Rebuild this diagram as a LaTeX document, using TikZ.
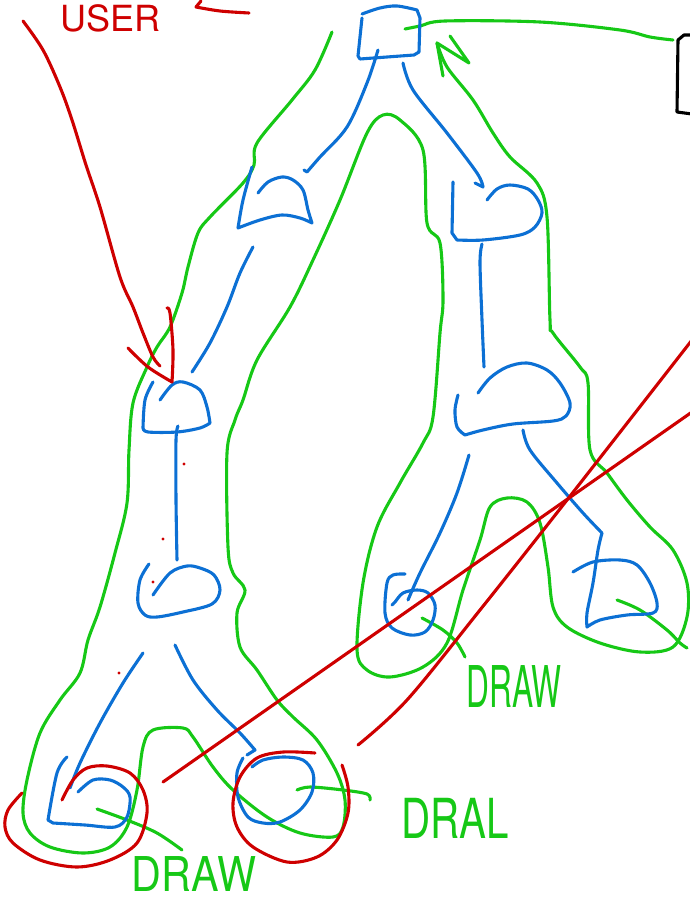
\documentclass[tikz,border=0pt]{standalone}
\usepackage{fontspec}
\setmainfont{TeX Gyre Heros}
\definecolor{penblue}{RGB}{12,112,212}
\definecolor{pengreen}{RGB}{22,200,22}
\definecolor{penred}{RGB}{206,0,0}
\begin{document}
\begin{tikzpicture}[x=1pt,y=-1pt,
  pen/.style={line width=3.1pt, line cap=round, line join=round},
  bluepen/.style={pen, draw=penblue},
  greenpen/.style={pen, draw=pengreen},
  redpen/.style={pen, draw=penred},
  blackpen/.style={pen, draw=black},
  sm/.style={smooth, tension=0.55},
  drawlabel/.style={text=pengreen, inner sep=0pt, font=\fontsize{48}{48}\selectfont},
  userlabel/.style={text=penred, inner sep=0pt, font=\fontsize{36}{36}\selectfont}]
\useasboundingbox (0,0) rectangle (690,902);

% ---------------- green outline ----------------
\draw[greenpen] plot[sm] coordinates {(332,32) (315,70) (292,100) (257,143) (254,165) (243,183) (210,217) (198,233) (188,267) (182,293) (170,327) (157,347) (147,367) (133,403) (129,450) (127,503) (115,553) (100,607) (88,640) (80,673) (60,700) (40,733) (27,780) (23,813) (30,833) (50,847) (83,853) (110,847) (127,827) (137,790) (143,747) (153,730) (183,728) (193,737) (213,767) (233,790) (267,817) (300,833) (333,837) (343,827) (345,800) (337,773) (317,740) (293,717) (277,700) (257,670) (240,647) (237,613) (245,590) (233,573) (228,547) (227,453) (235,420) (243,400) (257,360) (290,307) (313,260) (340,200) (367,133) (383,115) (400,120) (423,150) (427,223) (440,243) (443,300) (440,333) (433,417) (423,443) (400,483) (377,527) (363,583) (357,650) (367,670) (390,677) (423,667) (447,643) (463,590) (480,540) (490,507) (507,498) (527,502) (540,523) (548,567) (553,607) (567,627) (600,643) (640,652) (673,647) (687,617) (687,583) (673,550) (650,527) (627,500) (607,473) (590,450) (588,383) (580,367) (553,333) (550,320) (547,217) (537,183) (510,157) (493,133) (473,100) (447,67) (437,43)};
\draw[greenpen] (443,76) -- (437,43) -- (469,63) -- (450,36);
\draw[greenpen] plot[sm] coordinates {(405,29) (420,26) (445,21) (540,22) (620,30) (650,37) (673,40)};
\draw[greenpen] plot[sm] coordinates {(97,809) (127,820) (157,833) (182,850)};
\draw[greenpen] plot[sm] coordinates {(297,790) (310,787) (343,790) (367,794) (370,800)};
\draw[greenpen] plot[sm] coordinates {(422,618) (443,630) (457,643) (465,657)};
\draw[greenpen] plot[sm] coordinates {(617,600) (640,610) (667,630) (680,643) (687,648)};

% ---------------- black box ----------------
\draw[blackpen] (692,35) -- (684,35) -- (678,40) -- (677,112) -- (692,114);

% ---------------- blue tree ----------------
% root
\draw[bluepen] plot[sm] coordinates {(362,14) (380,8) (397,6) (417,10)} -- (420,18) -- (419,52) -- (414,55) -- (360,59) -- (358,56) -- (362,18);
% root -> L1, root -> R1
\draw[bluepen] plot[sm] coordinates {(378,50) (367,83) (347,127) (320,157) (307,172)} -- (304,170);
\draw[bluepen] plot[sm] coordinates {(403,63) (413,90) (447,133) (477,173) (483,187)} -- (475,183);
% L1
\draw[bluepen] plot[sm] coordinates {(258,193) (268,182) (282,177) (293,180) (303,190) (308,210) (312,223)}
  -- plot[sm] coordinates {(312,223) (300,218) (282,215) (260,220) (238,228)}
  -- plot[sm] coordinates {(238,228) (243,200) (252,167)};
% L1 -> L2
\draw[bluepen] plot[sm] coordinates {(253,247) (240,273) (227,307) (210,343) (192,372)};
% L2
\draw[bluepen] plot[sm] coordinates {(160,400) (172,385) (183,382) (200,390) (207,407) (210,423)}
  -- plot[sm] coordinates {(210,423) (200,428) (177,432) (148,432) (143,428)}
  -- plot[sm] coordinates {(143,428) (145,400) (153,382)};
% L2 -> L3
\draw[bluepen] plot[sm] coordinates {(178,426) (176,440) (176,500) (177,560)};
% L3
\draw[bluepen] plot[sm] coordinates {(153,595) (170,573) (187,566) (200,568) (214,575) (220,590) (212,604) (183,612) (157,617) (145,615) (138,603) (140,580) (149,564)};
% L3 -> leaves
\draw[bluepen] plot[sm] coordinates {(143,653) (123,683) (100,723) (80,763) (70,788)};
\draw[bluepen] plot[sm] coordinates {(175,645) (193,680) (217,710) (240,733) (255,750)} -- (247,755);
% LL leaf
\draw[bluepen] plot[sm] coordinates {(67,757) (57,773) (48,820)} -- (53,823)
  -- plot[sm] coordinates {(53,823) (85,825) (115,827) (127,817) (130,797) (123,787) (110,780) (93,780) (78,792)};
% LR leaf
\draw[bluepen] plot[sm] coordinates {(243,758) (237,773) (238,797) (248,817) (263,823) (280,822) (300,810) (312,792) (313,773) (303,760) (283,757) (263,760) (252,767)};
% R1
\draw[bluepen] plot[sm] coordinates {(453,182) (452,233)} -- (457,240)
  -- plot[sm] coordinates {(457,240) (483,240) (520,235) (535,227) (542,213) (538,200) (528,189) (510,185) (497,189) (487,200)};
% R1 -> R2
\draw[bluepen] plot[sm] coordinates {(482,244) (480,262) (482,320) (484,367)};
% R2
\draw[bluepen] plot[sm] coordinates {(458,395) (455,410) (457,427) (465,435)}
  -- plot[sm] coordinates {(465,435) (483,430) (513,424) (553,421) (566,416) (570,403) (560,383) (547,370) (527,363) (507,367) (490,378) (478,393)};
% R2 -> R3
\draw[bluepen] plot[sm] coordinates {(469,455) (457,493) (440,533) (420,573) (408,600)};
\draw[bluepen] plot[sm] coordinates {(523,430) (530,450) (557,483) (583,513) (602,533)} -- (598,529);
% R3 left leaf
\draw[bluepen] plot[sm] coordinates {(405,574) (393,575) (387,583) (385,613) (392,628) (410,635) (425,632) (433,620) (435,605) (428,593) (417,590) (403,593) (395,602) (392,605)};
% R3 right leaf
\draw[bluepen] plot[sm] coordinates {(602,533) (598,550) (593,583) (587,613) (587,627)}
  -- plot[sm] coordinates {(587,627) (600,620) (627,615) (653,613) (657,603) (650,583) (637,565) (620,560) (593,562) (573,572)};

% ---------------- red ----------------
\node[userlabel, anchor=base west] (user) at (60,31) {USER};
\draw[redpen] plot[sm] coordinates {(249,13) (220,11) (196,7)} -- (201,1);
\draw[redpen] plot[sm] coordinates {(23,21) (43,50) (60,87) (72,120) (86,165) (100,207) (120,277) (133,307) (143,333) (153,357) (160,366)};
\draw[redpen] plot[sm] coordinates {(128,348) (148,367) (172,382)} -- plot[sm] coordinates {(172,382) (173,350) (170,313) (167,308)};
% circles
\draw[redpen] plot[sm] coordinates {(62,800) (73,780) (87,768) (107,766) (130,773) (143,790) (147,813) (137,843) (110,860) (77,867) (40,860) (13,843) (5,827) (8,810) (22,793)};
\draw[redpen] plot[sm] coordinates {(315,753) (283,752) (257,758) (240,777) (233,803) (237,827) (253,847) (287,862) (317,857) (337,840) (348,813) (348,787) (342,765)};
% crossing lines
\draw[redpen] (163,782) -- (692,412);
\draw[redpen] plot[sm] coordinates {(358,745) (407,700) (480,610) (567,500) (692,340)};
% dots
\fill[penred] (184,464) circle (1.6pt) (163,539) circle (1.6pt) (153,582) circle (1.6pt) (119,673) circle (1.6pt);

% ---------------- labels ----------------
\node[drawlabel] (drawa) at (194,874) {\scalebox{0.86}[1]{DRAW}};
\node[drawlabel] (drawb) at (455,818) {\scalebox{0.84}[1.15]{DRAL}};
\node[drawlabel] (drawc) at (514,686) {\scalebox{0.66}[1.2]{DRAW}};
\end{tikzpicture}
\end{document}
